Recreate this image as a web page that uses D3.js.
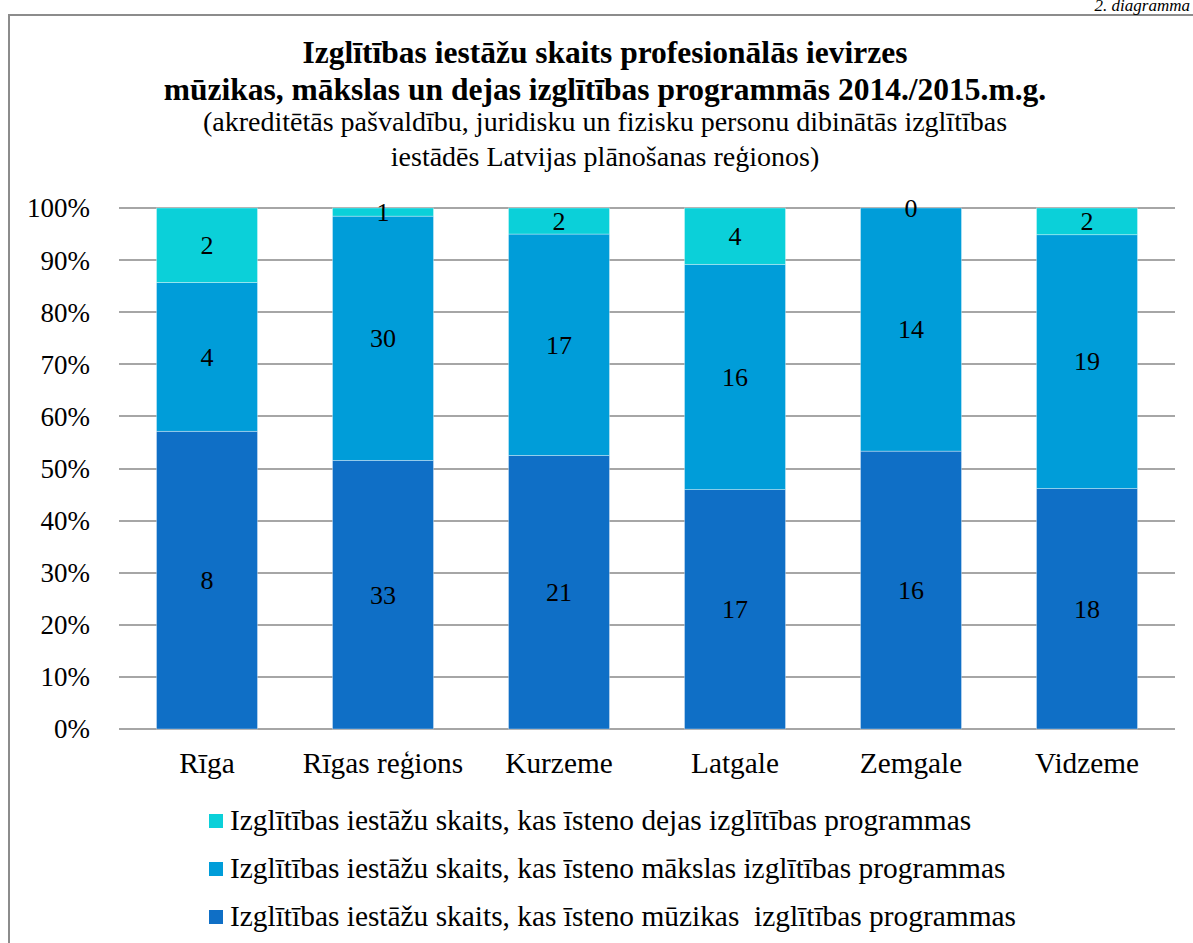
<!DOCTYPE html>
<html>
<head>
<meta charset="utf-8">
<script src="https://cdn.jsdelivr.net/npm/d3@7"></script>
</head>
<body style="margin:0;background:#fff">
<svg width="1193" height="943"></svg>
<script>
// dati
var regioni = ["Rīga", "Rīgas reģions", "Kurzeme", "Latgale", "Zemgale", "Vidzeme"];
var muzika = [8, 33, 21, 17, 16, 18];
var maksla = [4, 30, 17, 16, 14, 19];
var dejas = [2, 1, 2, 4, 0, 2];
var serijas = [
  "Izglītības iestāžu skaits, kas īsteno mūzikas  izglītības programmas",
  "Izglītības iestāžu skaits, kas īsteno mākslas izglītības programmas",
  "Izglītības iestāžu skaits, kas īsteno dejas izglītības programmas"
];
var krasas = ["#0F6FC6", "#009DD9", "#0BD0D9"];
var yTicks = [0, 0.1, 0.2, 0.3, 0.4, 0.5, 0.6, 0.7, 0.8, 0.9, 1];

var FONT = "Liberation Serif";
var svg = d3.select("svg");

// rāmis
svg.append("path")
  .attr("d", "M9,943 V15 H1193")
  .attr("fill", "none")
  .attr("stroke", "#8c8c8c")
  .attr("stroke-width", 2);

svg.append("text")
  .attr("x", 1190).attr("y", 11)
  .attr("text-anchor", "end")
  .attr("font-size", 17)
  .style("font-family", FONT)
  .style("font-style", "italic")
  .text("2. diagramma");

// virsraksts
var tx = 605;
var virsraksts = [
  { t: "Izglītības iestāžu skaits profesionālās ievirzes", y: 63, b: true },
  { t: "mūzikas, mākslas un dejas izglītības programmās 2014./2015.m.g.", y: 100, b: true },
  { t: "(akreditētās pašvaldību, juridisku un fizisku personu dibinātās izglītības", y: 131, b: false },
  { t: "iestādēs Latvijas plānošanas reģionos)", y: 166, b: false }
];
virsraksts.forEach(function(d) {
  svg.append("text")
    .attr("x", tx)
    .attr("y", d.y)
    .attr("text-anchor", "middle")
    .attr("font-size", d.b ? 31.5 : 28)
    .attr("font-weight", d.b ? "bold" : null)
    .style("font-family", FONT)
    .text(d.t);
});

// skalas
var x = d3.scaleBand().domain(regioni).range([119, 1175]).paddingInner(75 / 176).paddingOuter(75 / 352);
var y = d3.scaleLinear().domain([0, 1]).range([729, 208]);

var dati = regioni.map(function(r, i) {
  return { regions: r, vertibas: [muzika[i], maksla[i], dejas[i]] };
});

// režģis
svg.append("g").selectAll("line")
  .data(yTicks)
  .enter().append("line")
    .attr("x1", 119).attr("x2", 1175)
    .attr("y1", function(d) { return Math.round(y(d)); })
    .attr("y2", function(d) { return Math.round(y(d)); })
    .attr("stroke", "#a6a6a6")
    .attr("stroke-width", 2);

// y ass
var yAxis = svg.append("g")
  .attr("transform", "translate(90,0)")
  .call(d3.axisLeft(y).tickValues(yTicks).tickFormat(d3.format(".0%")).tickSize(0).tickPadding(0));
yAxis.attr("font-family", null).attr("font-size", null);
yAxis.select(".domain").remove();
yAxis.selectAll("text")
  .attr("font-size", 27)
  .attr("fill", "#000")
  .attr("dy", "0.33em")
  .style("font-family", FONT);

// stabiņi
var grupas = svg.append("g").selectAll("g")
  .data(dati)
  .enter().append("g")
    .attr("transform", function(d) { return "translate(" + x(d.regions) + ",0)"; });

grupas.each(function(d) {
  var kop = d3.sum(d.vertibas);
  var acc = 0;
  var seg = d.vertibas.map(function(v, k) {
    var s = { v: v, k: k, y0: acc / kop, y1: (acc + v) / kop };
    acc += v;
    return s;
  });
  var g = d3.select(this);
  g.selectAll("rect")
    .data(seg)
    .enter().append("rect")
      .attr("x", 0)
      .attr("width", x.bandwidth())
      .attr("y", function(s) { return y(s.y1); })
      .attr("height", function(s) { return y(s.y0) - y(s.y1); })
      .attr("fill", function(s) { return krasas[s.k]; })
      .attr("stroke", "rgba(255,255,255,0.45)")
      .attr("stroke-width", 0.75);
  g.selectAll("text")
    .data(seg)
    .enter().append("text")
      .attr("x", x.bandwidth() / 2)
      .attr("y", function(s) { return (y(s.y0) + y(s.y1)) / 2; })
      .attr("dy", "0.34em")
      .attr("text-anchor", "middle")
      .attr("font-size", 26)
      .style("font-family", FONT)
      .text(function(s) { return s.v; });
});

// x ass
var xAxis = svg.append("g")
  .attr("transform", "translate(0,729)")
  .call(d3.axisBottom(x).tickSize(0).tickPadding(0));
xAxis.attr("font-family", null).attr("font-size", null);
xAxis.select(".domain").remove();
xAxis.selectAll("text")
  .attr("font-size", 29.3)
  .attr("fill", "#000")
  .attr("y", 44)
  .attr("dy", 0)
  .style("font-family", FONT);

// leģenda
var leg = svg.append("g").selectAll("g")
  .data([2, 1, 0])
  .enter().append("g")
    .attr("transform", function(d, i) { return "translate(209," + (814 + i * 48) + ")"; });
leg.append("rect")
  .attr("width", 14).attr("height", 14)
  .attr("fill", function(d) { return krasas[d]; });
leg.append("text")
  .attr("x", 21).attr("y", 16)
  .attr("font-size", 29.4)
  .style("white-space", "pre")
  .style("font-family", FONT)
  .text(function(d) { return serijas[d]; });
</script>
</body>
</html>
